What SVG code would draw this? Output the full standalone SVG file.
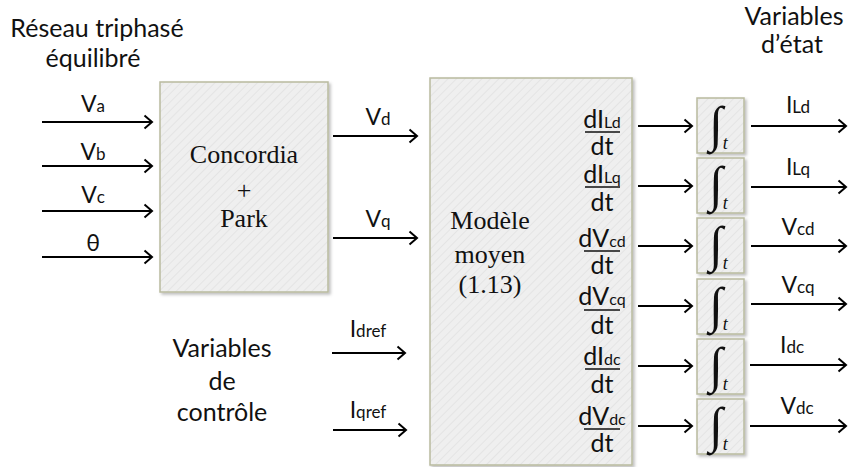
<svg xmlns="http://www.w3.org/2000/svg" width="848" height="467" viewBox="0 0 848 467">
<style>
.sans{font-family:Lato,"Liberation Sans",sans-serif;fill:#111}
.serif{font-family:"Liberation Serif","Times New Roman",serif;fill:#111}
.box{fill:url(#hatch);stroke:#b9bb9f;stroke-width:1.5;filter:url(#sh)}
.arr{stroke:#000;stroke-width:2;fill:none;marker-end:url(#ah)}
.bar{stroke:#111;stroke-width:1.6}
.lbl{font-size:23px}
.sub{font-size:17px}
.big{font-size:25px}
.frac{font-size:25px}
.fsub{font-size:16px}
.int{font-family:"Liberation Serif","DejaVu Serif",serif;font-size:50px;fill:#111}
.it{font-family:"Liberation Serif",serif;font-style:italic;font-size:18px}
</style>
<defs>
<pattern id="hatch" width="6" height="6" patternUnits="userSpaceOnUse" patternTransform="rotate(45)">
<rect width="6" height="6" fill="#efefef"/>
<line x1="0" y1="0" x2="0" y2="6" stroke="#e4e4e4" stroke-width="2"/>
</pattern>
<filter id="sh" x="-10%" y="-10%" width="130%" height="130%">
<feDropShadow dx="2" dy="2" stdDeviation="1.5" flood-color="#000" flood-opacity="0.25"/>
</filter>
<marker id="ah" markerUnits="userSpaceOnUse" markerWidth="12" markerHeight="16" viewBox="0 0 12 16" refX="10" refY="8" orient="auto">
<path d="M2.5,1.5 L10,8 L2.5,14.5" stroke="#000" stroke-width="2" fill="none"/>
</marker>
</defs>

<g id="title-reseau">
<text class="sans big" x="97" y="37" text-anchor="middle" font-size="26">Réseau triphasé</text>
<text class="sans big" x="93" y="67" text-anchor="middle" font-size="26">équilibré</text>
</g>
<g id="title-etat">
<text class="sans big" x="794" y="25" text-anchor="middle" font-size="26">Variables</text>
<text class="sans big" x="792" y="53" text-anchor="middle" font-size="26">d’état</text>
</g>
<g id="title-controle">
<text class="sans big" x="222" y="357" text-anchor="middle">Variables</text>
<text class="sans big" x="222" y="390" text-anchor="middle">de</text>
<text class="sans big" x="222" y="421" text-anchor="middle">contrôle</text>
</g>

<g id="concordia-park">
<rect class="box" x="160" y="82" width="168" height="210"/>
<text class="serif" x="244" y="163" text-anchor="middle" font-size="26">Concordia</text>
<text class="serif" x="244" y="199" text-anchor="middle" font-size="26">+</text>
<text class="serif" x="244" y="227" text-anchor="middle" font-size="26">Park</text>
</g>

<g id="modele-moyen">
<rect class="box" x="430" y="78" width="202" height="387"/>
<text class="serif" x="490" y="229" text-anchor="middle" font-size="26">Modèle</text>
<text class="serif" x="490" y="263" text-anchor="middle" font-size="26">moyen</text>
<text class="serif" x="490" y="293" text-anchor="middle" font-size="26">(1.13)</text>
<g id="derivees" class="sans">
<text x="602" y="128" text-anchor="middle" class="frac">dI<tspan class="fsub">Ld</tspan></text>
<line class="bar" x1="585" y1="132" x2="620" y2="132"/>
<text x="602" y="155" text-anchor="middle" class="frac">dt</text>
<text x="602" y="183" text-anchor="middle" class="frac">dI<tspan class="fsub">Lq</tspan></text>
<line class="bar" x1="585" y1="187" x2="620" y2="187"/>
<text x="602" y="211" text-anchor="middle" class="frac">dt</text>
<text x="602" y="247" text-anchor="middle" class="frac">dV<tspan class="fsub">cd</tspan></text>
<line class="bar" x1="584" y1="251" x2="620" y2="251"/>
<text x="602" y="274" text-anchor="middle" class="frac">dt</text>
<text x="602" y="305" text-anchor="middle" class="frac">dV<tspan class="fsub">cq</tspan></text>
<line class="bar" x1="584" y1="310" x2="620" y2="310"/>
<text x="602" y="334" text-anchor="middle" class="frac">dt</text>
<text x="602" y="365" text-anchor="middle" class="frac">dI<tspan class="fsub">dc</tspan></text>
<line class="bar" x1="585" y1="369" x2="620" y2="369"/>
<text x="602" y="393" text-anchor="middle" class="frac">dt</text>
<text x="602" y="425" text-anchor="middle" class="frac">dV<tspan class="fsub">dc</tspan></text>
<line class="bar" x1="584" y1="429" x2="620" y2="429"/>
<text x="602" y="452" text-anchor="middle" class="frac">dt</text>
</g>
</g>

<g id="int1"><rect class="box" x="697" y="98" width="47" height="55"/><text class="int" x="709" y="141">∫<tspan class="it" dy="8">t</tspan></text></g>
<g id="int2"><rect class="box" x="697" y="158" width="47" height="55"/><text class="int" x="709" y="201">∫<tspan class="it" dy="8">t</tspan></text></g>
<g id="int3"><rect class="box" x="697" y="218" width="47" height="55"/><text class="int" x="709" y="261">∫<tspan class="it" dy="8">t</tspan></text></g>
<g id="int4"><rect class="box" x="697" y="279" width="47" height="55"/><text class="int" x="709" y="322">∫<tspan class="it" dy="8">t</tspan></text></g>
<g id="int5"><rect class="box" x="697" y="339" width="47" height="55"/><text class="int" x="709" y="382">∫<tspan class="it" dy="8">t</tspan></text></g>
<g id="int6"><rect class="box" x="697" y="399" width="47" height="55"/><text class="int" x="709" y="442">∫<tspan class="it" dy="8">t</tspan></text></g>

<g id="connectors">
<line class="arr" x1="42" y1="122" x2="152" y2="122"/>
<line class="arr" x1="42" y1="166" x2="152" y2="166"/>
<line class="arr" x1="42" y1="211" x2="152" y2="211"/>
<line class="arr" x1="42" y1="257" x2="152" y2="257"/>
<line class="arr" x1="333" y1="136" x2="417" y2="136"/>
<line class="arr" x1="333" y1="238" x2="417" y2="238"/>
<line class="arr" x1="332" y1="353" x2="405" y2="353"/>
<line class="arr" x1="333" y1="430" x2="406" y2="430"/>
<line class="arr" x1="638" y1="126" x2="692" y2="126"/>
<line class="arr" x1="638" y1="186" x2="692" y2="186"/>
<line class="arr" x1="638" y1="246" x2="692" y2="246"/>
<line class="arr" x1="638" y1="306" x2="692" y2="306"/>
<line class="arr" x1="638" y1="366" x2="692" y2="366"/>
<line class="arr" x1="638" y1="426" x2="692" y2="426"/>
<line class="arr" x1="751" y1="126" x2="846" y2="126"/>
<line class="arr" x1="751" y1="187" x2="846" y2="187"/>
<line class="arr" x1="751" y1="246" x2="846" y2="246"/>
<line class="arr" x1="751" y1="304" x2="846" y2="304"/>
<line class="arr" x1="750" y1="365" x2="846" y2="365"/>
<line class="arr" x1="750" y1="426" x2="846" y2="426"/>
<g class="sans">
<text class="lbl" x="93" y="112" text-anchor="middle">V<tspan class="sub">a</tspan></text>
<text class="lbl" x="93" y="160" text-anchor="middle">V<tspan class="sub">b</tspan></text>
<text class="lbl" x="93" y="203" text-anchor="middle">V<tspan class="sub">c</tspan></text>
<text class="lbl" x="93" y="251" text-anchor="middle" font-size="19">θ</text>
<text class="lbl" x="378" y="125" text-anchor="middle">V<tspan class="sub" font-size="20">d</tspan></text>
<text class="lbl" x="378" y="227" text-anchor="middle">V<tspan class="sub" font-size="20">q</tspan></text>
<text class="lbl" x="368" y="337" text-anchor="middle">I<tspan class="sub">dref</tspan></text>
<text class="lbl" x="368" y="418" text-anchor="middle">I<tspan class="sub">qref</tspan></text>
<text class="lbl" x="798" y="113" text-anchor="middle">I<tspan class="sub">Ld</tspan></text>
<text class="lbl" x="798" y="175" text-anchor="middle">I<tspan class="sub">Lq</tspan></text>
<text class="lbl" x="798" y="235" text-anchor="middle">V<tspan class="sub">cd</tspan></text>
<text class="lbl" x="798" y="293" text-anchor="middle">V<tspan class="sub">cq</tspan></text>
<text class="lbl" x="792" y="353" text-anchor="middle">I<tspan class="sub">dc</tspan></text>
<text class="lbl" x="797" y="414" text-anchor="middle">V<tspan class="sub">dc</tspan></text>
</g>
</g>
</svg>
